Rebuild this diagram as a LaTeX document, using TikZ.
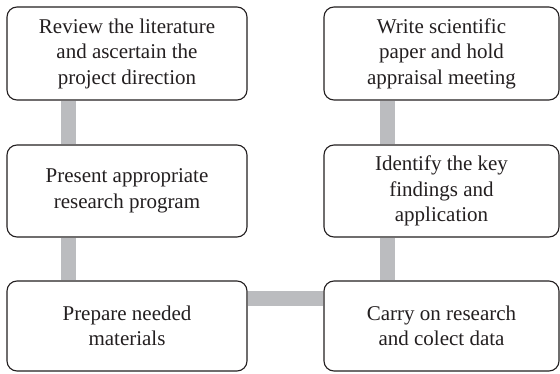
\documentclass[tikz,border=0pt]{standalone}
\usepackage{fontspec}
\setmainfont{Liberation Serif}
\usetikzlibrary{backgrounds}
\definecolor{ink}{HTML}{231F20}
\definecolor{barc}{HTML}{BBBCBF}
\begin{document}
\begin{tikzpicture}[x=1pt,y=1pt,
  box/.style={draw=ink, line width=1.1pt, rounded corners=10pt, fill=white,
    align=center, text=ink, inner sep=0pt,
    font=\fontsize{21}{25.5}\selectfont},
  conn/.style={draw=barc, line width=15pt}]
\useasboundingbox (0,0) rectangle (560,373);
\node[box, minimum width=240, minimum height=93] (a) at (127,319.5) {Review the literature\\and ascertain the\\project direction};
\node[box, minimum width=240, minimum height=92] (b) at (127,182) {Present appropriate\\research program};
\node[box, minimum width=240, minimum height=90] (c) at (127,47) {Prepare needed\\materials};
\node[box, minimum width=235, minimum height=90] (d) at (441.5,47) {Carry on research\\and colect data};
\node[box, minimum width=235, minimum height=92] (e) at (441.5,182) {Identify the key\\findings and\\application};
\node[box, minimum width=235, minimum height=93] (f) at (441.5,319.5) {Write scientific\\paper and hold\\appraisal meeting};
\begin{scope}[on background layer]
\draw[conn] ([xshift=62pt]a.south west) -- ([xshift=62pt]b.north west);
\draw[conn] ([xshift=62pt]b.south west) -- ([xshift=62pt]c.north west);
\draw[conn] ([yshift=28pt]c.east) -- ([yshift=28pt]d.west);
\draw[conn] ([xshift=64pt]d.north west) -- ([xshift=64pt]e.south west);
\draw[conn] ([xshift=64pt]e.north west) -- ([xshift=64pt]f.south west);
\end{scope}
\end{tikzpicture}
\end{document}
